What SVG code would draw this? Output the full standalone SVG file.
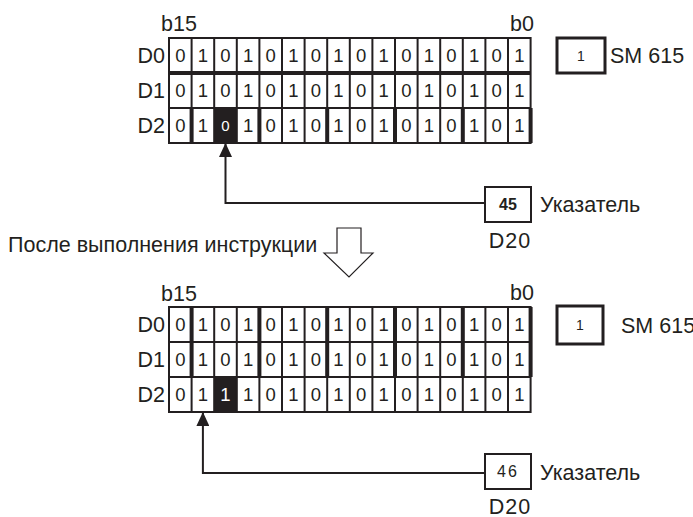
<svg xmlns="http://www.w3.org/2000/svg" width="693" height="517" viewBox="0 0 693 517">
<style>
text{font-family:"Liberation Sans",Arial,sans-serif;fill:#231f20}
.lbl{font-size:21.5px}
.bit{font-size:18.5px;text-anchor:middle}
.grid{fill:none;stroke:#231f20;stroke-width:2}
.thick{fill:none;stroke:#231f20;stroke-width:4}
.box{fill:#fff;stroke:#231f20;stroke-width:2}
.sbox{fill:#fff;stroke:#231f20;stroke-width:3}
.conn{fill:none;stroke:#231f20;stroke-width:2}
</style>
<defs>
<marker id="ah" viewBox="0 0 14 13" refX="14" refY="6.5" markerWidth="14" markerHeight="13" markerUnits="userSpaceOnUse" orient="auto">
<path d="M0,0 L14,6.5 L0,13 z" fill="#231f20"/>
</marker>
</defs>
<rect width="693" height="517" fill="#fff"/>

<g id="top-grid">
<text class="lbl" x="161" y="31">b15</text>
<text class="lbl" x="534" y="31" text-anchor="end">b0</text>
<text class="lbl" x="165" y="63" text-anchor="end">D0</text>
<text class="lbl" x="165" y="98" text-anchor="end">D1</text>
<text class="lbl" x="165" y="133" text-anchor="end">D2</text>
<rect x="214.2" y="108" width="22.6" height="35" fill="#231f20"/>
<path class="grid" d="M169,38H530.6V143H169Z M169,108H530.6 M191.6,38V143 M214.2,38V143 M236.8,38V143 M259.4,38V143 M282,38V143 M304.6,38V143 M327.2,38V143 M349.8,38V143 M372.4,38V143 M395,38V143 M417.6,38V143 M440.2,38V143 M462.8,38V143 M485.4,38V143 M508,38V143"/>
<path class="thick" d="M169,73H530.6 M191.6,108V143 M259.4,108V143 M327.2,108V143 M395,108V143 M462.8,108V143 M530.6,108V143"/>
<text class="bit" x="180.3 202.9 225.5 248.1 270.7 293.3 315.9 338.5 361.1 383.7 406.3 428.9 451.5 474.1 496.7 519.3" y="62">0101010101010101</text>
<text class="bit" x="180.3 202.9 225.5 248.1 270.7 293.3 315.9 338.5 361.1 383.7 406.3 428.9 451.5 474.1 496.7 519.3" y="97">0101010101010101</text>
<text class="bit" x="180.3 202.9" y="132">01</text>
<text class="bit" x="248.1 270.7 293.3 315.9 338.5 361.1 383.7 406.3 428.9 451.5 474.1 496.7 519.3" y="132">1010101010101</text>
<text x="225.5" y="131" font-size="15" text-anchor="middle" style="fill:#fff">0</text>
</g>

<g id="sm615-top">
<rect class="sbox" x="557" y="38" width="48" height="35"/>
<text x="581" y="61" font-size="14" text-anchor="middle">1</text>
<text class="lbl" x="610" y="63">SM 615</text>
</g>

<g id="pointer-top">
<rect class="box" x="485" y="187" width="46" height="35"/>
<text x="508" y="210" font-size="16" font-weight="bold" text-anchor="middle">45</text>
<text class="lbl" x="540" y="212">Указатель</text>
<text class="lbl" x="510" y="248" text-anchor="middle" letter-spacing="1">D20</text>
</g>

<g id="title">
<text class="lbl" x="8" y="252">После выполнения инструкции</text>
</g>

<g id="down-arrow">
<polygon points="337,228 361,228 361,253 373,253 349,277 324,253 337,253" fill="#fff" stroke="#231f20" stroke-width="1.2"/>
</g>

<g id="bottom-grid">
<text class="lbl" x="161" y="301">b15</text>
<text class="lbl" x="534" y="300" text-anchor="end">b0</text>
<text class="lbl" x="165" y="332" text-anchor="end">D0</text>
<text class="lbl" x="165" y="367" text-anchor="end">D1</text>
<text class="lbl" x="165" y="402" text-anchor="end">D2</text>
<rect x="214.2" y="377" width="22.6" height="35" fill="#231f20"/>
<path class="grid" d="M169,307H530.6V412H169Z M169,342H530.6 M169,377H530.6 M191.6,307V412 M214.2,307V412 M236.8,307V412 M259.4,307V412 M282,307V412 M304.6,307V412 M327.2,307V412 M349.8,307V412 M372.4,307V412 M395,307V412 M417.6,307V412 M440.2,307V412 M462.8,307V412 M485.4,307V412 M508,307V412"/>
<path class="thick" d="M191.6,307V377 M259.4,307V377 M327.2,307V377 M395,307V377 M462.8,307V377 M530.6,307V377"/>
<text class="bit" x="180.3 202.9 225.5 248.1 270.7 293.3 315.9 338.5 361.1 383.7 406.3 428.9 451.5 474.1 496.7 519.3" y="331">0101010101010101</text>
<text class="bit" x="180.3 202.9 225.5 248.1 270.7 293.3 315.9 338.5 361.1 383.7 406.3 428.9 451.5 474.1 496.7 519.3" y="366">0101010101010101</text>
<text class="bit" x="180.3 202.9" y="401">01</text>
<text class="bit" x="248.1 270.7 293.3 315.9 338.5 361.1 383.7 406.3 428.9 451.5 474.1 496.7 519.3" y="401">1010101010101</text>
<text class="bit" x="225.5" y="401" style="fill:#fff">1</text>
</g>

<g id="sm615-bottom">
<rect class="sbox" x="557" y="306" width="46" height="38"/>
<text x="580" y="330" font-size="14" text-anchor="middle">1</text>
<text class="lbl" x="621" y="333">SM 615</text>
</g>

<g id="pointer-bottom">
<rect class="box" x="485" y="454" width="46" height="35"/>
<text x="508" y="477" font-size="16" text-anchor="middle" letter-spacing="2">46</text>
<text class="lbl" x="540" y="480">Указатель</text>
<text class="lbl" x="510" y="514" text-anchor="middle" letter-spacing="1">D20</text>
</g>

<g id="connectors">
<path class="conn" d="M485,203H225.5V143" marker-end="url(#ah)"/>
<path class="conn" d="M485,473H202.9V412" marker-end="url(#ah)"/>
</g>
</svg>
